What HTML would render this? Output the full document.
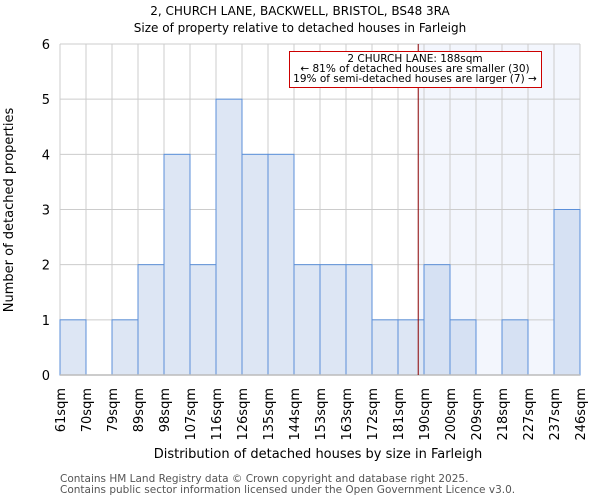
<!DOCTYPE html>
<html><head><meta charset="utf-8"><style>
body{margin:0;background:#fff;font-family:"DejaVu Sans","Liberation Sans",sans-serif}
</style></head><body>
<svg width="600" height="500" xmlns="http://www.w3.org/2000/svg" font-family="DejaVu Sans, Liberation Sans, sans-serif">
<text x="300" y="15" text-anchor="middle" font-size="12">2, CHURCH LANE, BACKWELL, BRISTOL, BS48 3RA</text>
<text x="300" y="32" text-anchor="middle" font-size="12">Size of property relative to detached houses in Farleigh</text>
<g id="g"></g>
<text x="318" y="458" text-anchor="middle" font-size="13">Distribution of detached houses by size in Farleigh</text>
<text transform="translate(13,210) rotate(-90)" text-anchor="middle" font-size="13">Number of detached properties</text>
<text x="60" y="482" font-size="10.5" fill="#555">Contains HM Land Registry data © Crown copyright and database right 2025.</text>
<text x="60" y="493" font-size="10.5" fill="#555">Contains public sector information licensed under the Open Government Licence v3.0.</text>
</svg>
<script>
const categories=["61sqm","70sqm","79sqm","89sqm","98sqm","107sqm","116sqm","126sqm","135sqm","144sqm","153sqm","163sqm","172sqm","181sqm","190sqm","200sqm","209sqm","218sqm","227sqm","237sqm","246sqm"];
const binEdges=[61,70,79,89,98,107,116,126,135,144,153,163,172,181,190,200,209,218,227,237,246];
const counts=[1,0,1,2,4,2,5,4,4,2,2,2,1,1,2,1,0,1,0,3];
const yTicks=[0,1,2,3,4,5,6];
const propertySize=188;
const NS="http://www.w3.org/2000/svg";
const g=document.getElementById('g');
const X0=60,X1=580,Y0=375,Y1=44,n=counts.length,bw=(X1-X0)/n;
const xi=i=>X0+i*bw;
const y=v=>Y0-(Y0-Y1)*v/6;
function xs(v){for(let i=0;i<binEdges.length-1;i++){if(v<=binEdges[i+1])return xi(i)+bw*(v-binEdges[i])/(binEdges[i+1]-binEdges[i]);}return X1;}
function mk(t,a){const e=document.createElementNS(NS,t);for(const k in a)e.setAttribute(k,a[k]);g.appendChild(e);return e;}
const lx=xs(propertySize);
let e=mk('rect',{x:lx,y:Y1,width:X1-lx,height:Y0-Y1,fill:'#f3f6fd'});


for(let i=0;i<=n;i++){e=mk('line',{x1:xi(i),x2:xi(i),y1:Y1,y2:Y0,stroke:'#cccccc'});

}
yTicks.forEach(t=>{e=mk('line',{x1:X0,x2:X1,y1:y(t),y2:y(t),stroke:'#cccccc'});


e=mk('text',{x:50,y:y(t)+5,'text-anchor':'end','font-size':13});e.textContent=t;

});
counts.forEach((c,i)=>{if(!c)return;const right=xi(i)>=lx;
e=mk('rect',{x:xi(i),y:y(c),width:bw,height:Y0-y(c),fill:right?'#d6e1f3':'#dde6f4',stroke:'#5b8fd9','stroke-width':1});

});
e=mk('line',{x1:X0,x2:X1,y1:Y0,y2:Y0,stroke:'#bbbbbb','stroke-width':1.5});


categories.forEach((c,i)=>{e=mk('text',{transform:`translate(${xi(i)+5},388) rotate(-90)`,'text-anchor':'end','font-size':13});e.textContent=c;

});
e=mk('line',{x1:lx,x2:lx,y1:Y1,y2:Y0,stroke:'#8b0000','stroke-width':1});


e=mk('rect',{x:289.5,y:51.5,width:252,height:36,fill:'#fff',stroke:'#cc0000'});


[["2 CHURCH LANE: 188sqm",62],["← 81% of detached houses are smaller (30)",72],["19% of semi-detached houses are larger (7) →",82]].forEach(([t,yy])=>{
e=mk('text',{x:415,y:yy,'text-anchor':'middle','font-size':10.5});e.textContent=t;

});
</script>
</body></html>
